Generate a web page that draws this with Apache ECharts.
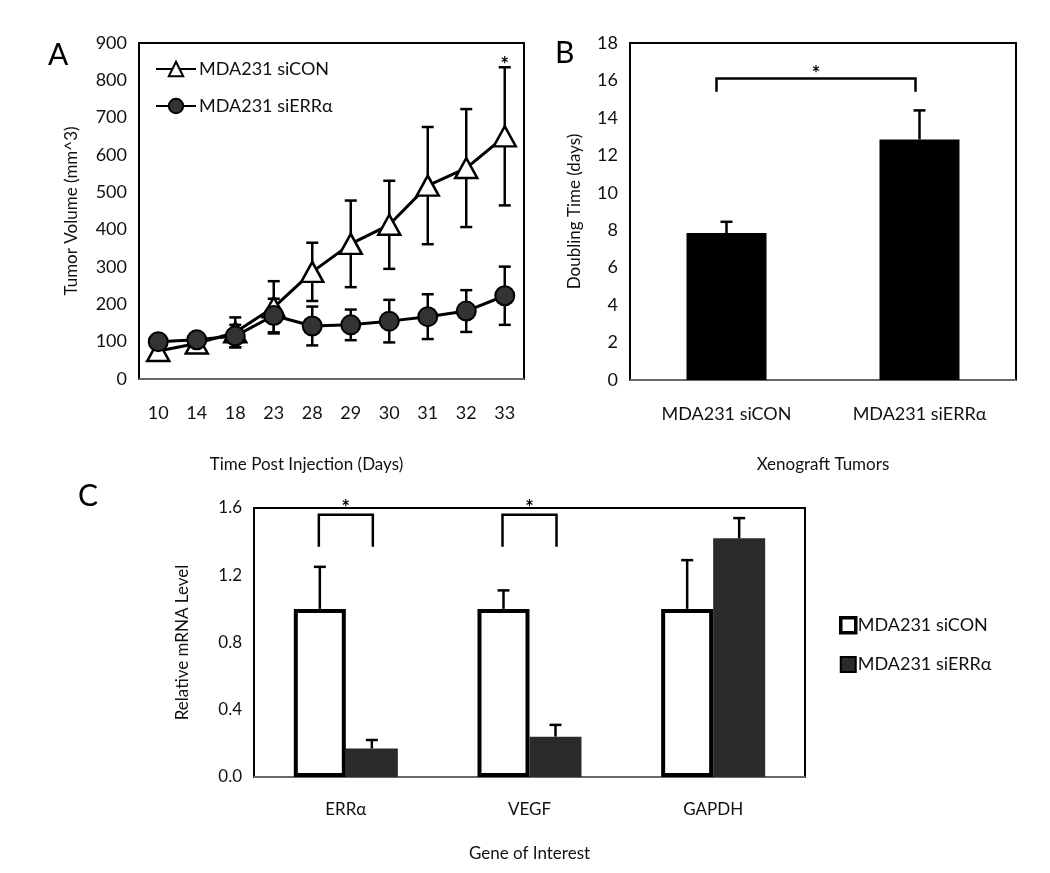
<!DOCTYPE html>
<html>
<head>
<meta charset="utf-8">
<script src="https://cdn.jsdelivr.net/npm/echarts@6/dist/echarts.min.js"></script>
<style>html,body{margin:0;padding:0;background:#fff}#c{width:1050px;height:873px}</style>
</head>
<body>
<div id="c"></div>
<script>
// ---- Panel A data ----
const daysA = ['10','14','18','23','28','29','30','31','32','33'];
const conA = [75, 95, 125, 192, 287, 362, 413, 518, 565, 650];
const conAErr = [10, 12, 40, 70, 78, 116, 118, 157, 158, 185];
const errA = [100, 105, 115, 170, 142, 145, 155, 167, 182, 223];
const errAErr = [12, 10, 30, 45, 52, 41, 57, 60, 56, 78];
const starA = [['33', 840]];
const yTicksA = {min: 0, max: 900, interval: 100};

// ---- Panel B data ----
const catsB = ['MDA231 siCON', 'MDA231 siERRα'];
const valsB = [7.85, 12.85];
const valsBErr = [0.6, 1.55];
const bracketB = [[0, 1, 16.1, 15.4]];
const yTicksB = {min: 0, max: 18, interval: 2};

// ---- Panel C data ----
const genesC = ['ERRα', 'VEGF', 'GAPDH'];
const conC = [1.0, 1.0, 1.0];
const conCErr = [0.25, 0.11, 0.29];
const errC = [0.17, 0.24, 1.42];
const errCErr = [0.05, 0.07, 0.12];
const bracketC = [[0, 1.56, 1.37], [1, 1.56, 1.37]];
const yTicksC = {min: 0, max: 1.6, interval: 0.4};

const seriesNames = ['MDA231 siCON', 'MDA231 siERRα'];

const FONT = 'Lato';
const TXT = '#111';
const AX = '#8a8a8a';

function axisCommon() {
  return {
    axisLine: {lineStyle: {color: AX, width: 1.5}},
    axisTick: {lineStyle: {color: AX, width: 1.5}, length: 5},
    axisLabel: {color: TXT, fontFamily: FONT, fontSize: 18},
    splitLine: {show: false},
    nameTextStyle: {color: TXT, fontFamily: FONT, fontSize: 17}
  };
}

function errRender(symmetric, offsetPx, capW) {
  return function (params, api) {
    const x = api.value(0), v = api.value(1), e = api.value(2);
    const top = api.coord([x, v + e]);
    const bot = api.coord([x, symmetric ? v - e : v]);
    const dx = offsetPx;
    const style = {stroke: '#000', lineWidth: 2.5};
    const children = [
      {type: 'line', shape: {x1: top[0] + dx, y1: top[1], x2: bot[0] + dx, y2: bot[1]}, style},
      {type: 'line', shape: {x1: top[0] + dx - capW / 2, y1: top[1], x2: top[0] + dx + capW / 2, y2: top[1]}, style}
    ];
    if (symmetric) {
      children.push({type: 'line', shape: {x1: bot[0] + dx - capW / 2, y1: bot[1], x2: bot[0] + dx + capW / 2, y2: bot[1]}, style});
    }
    return {type: 'group', children};
  };
}

function bracketRenderB(params, api) {
  const a = api.value(0), b = api.value(1), yt = api.value(2), yl = api.value(3);
  const p1 = api.coord([a, yl]), p2 = api.coord([a, yt]), p3 = api.coord([b, yt]), p4 = api.coord([b, yl]);
  return {type: 'group', children: [
    {type: 'polyline', shape: {points: [[p1[0] - 10, p1[1]], [p2[0] - 10, p2[1]], [p3[0] - 4, p3[1]], [p4[0] - 4, p4[1]]]}, style: {stroke: '#000', fill: null, lineWidth: 2.5}},
    {type: 'text', style: {text: '*', x: (p2[0] + p3[0]) / 2 - 7, y: p2[1] - 4, fill: '#000', font: 'bold 20px ' + FONT, textAlign: 'center', textVerticalAlign: 'middle'}}
  ]};
}

function bracketRenderC(params, api) {
  const c = api.value(0), yt = api.value(1), yl = api.value(2);
  const off = 27;
  const p1 = api.coord([c, yl]), p2 = api.coord([c, yt]);
  const xl = p1[0] - off, xr = p1[0] + off;
  return {type: 'group', children: [
    {type: 'polyline', shape: {points: [[xl, p1[1]], [xl, p2[1]], [xr, p2[1]], [xr, p1[1]]]}, style: {stroke: '#000', fill: null, lineWidth: 2.5}},
    {type: 'text', style: {text: '*', x: (xl + xr) / 2, y: p2[1] - 6, fill: '#000', font: 'bold 20px ' + FONT, textAlign: 'center', textVerticalAlign: 'middle'}}
  ]};
}

const chart = echarts.init(document.getElementById('c'), null, {renderer: 'canvas'});

const option = {
  backgroundColor: '#fff',
  animation: false,
  textStyle: {fontFamily: FONT, color: TXT},
  grid: [
    {left: 139, top: 43, width: 385, height: 336, show: true, borderColor: '#000', borderWidth: 2, backgroundColor: 'transparent'},
    {left: 630, top: 43, width: 386, height: 337, show: true, borderColor: '#000', borderWidth: 2, backgroundColor: 'transparent'},
    {left: 254, top: 508, width: 551, height: 269, show: true, borderColor: '#000', borderWidth: 2, backgroundColor: 'transparent'}
  ],
  legend: [
    {
      left: 150, top: 55, orient: 'vertical', itemGap: 19, itemWidth: 40, itemHeight: 18,
      data: seriesNames.map(n => ({name: n})),
      textStyle: {color: TXT, fontFamily: FONT, fontSize: 18, padding: [0, 0, 0, -2]},
      seriesIndex: [0, 1]
    },
    {
      left: 834, top: 611, orient: 'vertical', itemGap: 21, itemWidth: 15, itemHeight: 15,
      data: [
        {name: seriesNames[0], icon: 'rect', itemStyle: {color: '#fff', borderColor: '#000', borderWidth: 3.5}},
        {name: seriesNames[1], icon: 'rect', itemStyle: {color: '#2b2b2b'}}
      ],
      textStyle: {color: TXT, fontFamily: FONT, fontSize: 18, padding: [0, 0, 0, -3]}
    }
  ],
  xAxis: [
    Object.assign(axisCommon(), {gridIndex: 0, type: 'category', data: daysA, boundaryGap: true,
      name: 'Time Post Injection (Days)', nameLocation: 'middle', nameGap: 77,
      nameTextStyle: {color: TXT, fontFamily: FONT, fontSize: 17, padding: [0, 50, 0, 0]},
      axisLabel: {color: TXT, fontFamily: FONT, fontSize: 18, margin: 25}}),
    Object.assign(axisCommon(), {gridIndex: 1, type: 'category', data: catsB, boundaryGap: true,
      name: 'Xenograft Tumors', nameLocation: 'middle', nameGap: 76,
      axisLabel: {color: TXT, fontFamily: FONT, fontSize: 18, margin: 25}}),
    Object.assign(axisCommon(), {gridIndex: 2, type: 'category', data: genesC, boundaryGap: true,
      name: 'Gene of Interest', nameLocation: 'middle', nameGap: 68,
      axisLabel: {color: TXT, fontFamily: FONT, fontSize: 17, margin: 24}})
  ],
  yAxis: [
    Object.assign(axisCommon(), {gridIndex: 0, type: 'value', min: yTicksA.min, max: yTicksA.max, interval: yTicksA.interval,
      name: 'Tumor Volume (mm^3)', nameLocation: 'middle', nameGap: 59,
      axisLabel: {color: TXT, fontFamily: FONT, fontSize: 18, margin: 12}}),
    Object.assign(axisCommon(), {gridIndex: 1, type: 'value', min: yTicksB.min, max: yTicksB.max, interval: yTicksB.interval,
      name: 'Doubling Time (days)', nameLocation: 'middle', nameGap: 47,
      axisLabel: {color: TXT, fontFamily: FONT, fontSize: 18, margin: 12}}),
    Object.assign(axisCommon(), {gridIndex: 2, type: 'value', min: yTicksC.min, max: yTicksC.max, interval: yTicksC.interval,
      name: 'Relative mRNA Level', nameLocation: 'middle', nameGap: 63,
      axisLabel: {color: TXT, fontFamily: FONT, fontSize: 17, margin: 12, formatter: v => v.toFixed(1)}})
  ],
  series: [
    // Panel A lines
    {name: seriesNames[0], type: 'line', xAxisIndex: 0, yAxisIndex: 0, data: conA, z: 5,
      symbol: 'triangle', symbolSize: [22, 20],
      lineStyle: {color: '#000', width: 3},
      itemStyle: {color: '#fff', borderColor: '#000', borderWidth: 2.5}},
    {name: seriesNames[1], type: 'line', xAxisIndex: 0, yAxisIndex: 0, data: errA, z: 6,
      symbol: 'circle', symbolSize: 19,
      lineStyle: {color: '#000', width: 3},
      itemStyle: {color: '#333', borderColor: '#000', borderWidth: 2}},
    // Panel A error bars
    {type: 'custom', xAxisIndex: 0, yAxisIndex: 0, z: 3, silent: true,
      renderItem: errRender(true, 0, 12), data: daysA.map((d, i) => [i, conA[i], conAErr[i]])},
    {type: 'custom', xAxisIndex: 0, yAxisIndex: 0, z: 3, silent: true,
      renderItem: errRender(true, 0, 12), data: daysA.map((d, i) => [i, errA[i], errAErr[i]])},
    // Panel A star
    {type: 'custom', xAxisIndex: 0, yAxisIndex: 0, z: 7, silent: true,
      renderItem: function (params, api) {
        const p = api.coord([api.value(0), api.value(1)]);
        return {type: 'text', style: {text: '*', x: p[0], y: p[1], fill: '#000', font: 'bold 20px ' + FONT, textAlign: 'center', textVerticalAlign: 'middle'}};
      },
      data: starA.map(s => [daysA.indexOf(s[0]), s[1]])},
    // Panel B bars
    {type: 'bar', xAxisIndex: 1, yAxisIndex: 1, data: valsB, barWidth: 80,
      itemStyle: {color: '#000'}},
    {type: 'custom', xAxisIndex: 1, yAxisIndex: 1, z: 3, silent: true,
      renderItem: errRender(false, 0, 12), data: catsB.map((c, i) => [i, valsB[i], valsBErr[i]])},
    {type: 'custom', xAxisIndex: 1, yAxisIndex: 1, z: 3, silent: true,
      renderItem: bracketRenderB, data: bracketB},
    // Panel C bars
    {name: seriesNames[0], type: 'bar', xAxisIndex: 2, yAxisIndex: 2, data: conC, barWidth: 52, barGap: '0%',
      itemStyle: {color: '#fff', borderColor: '#000', borderWidth: 4}},
    {name: seriesNames[1], type: 'bar', xAxisIndex: 2, yAxisIndex: 2, data: errC, barWidth: 52, barGap: '0%',
      itemStyle: {color: '#2b2b2b'}},
    {type: 'custom', xAxisIndex: 2, yAxisIndex: 2, z: 3, silent: true,
      renderItem: errRender(false, -26, 12), data: genesC.map((g, i) => [i, conC[i], conCErr[i]])},
    {type: 'custom', xAxisIndex: 2, yAxisIndex: 2, z: 3, silent: true,
      renderItem: errRender(false, 26, 12), data: genesC.map((g, i) => [i, errC[i], errCErr[i]])},
    {type: 'custom', xAxisIndex: 2, yAxisIndex: 2, z: 3, silent: true,
      renderItem: bracketRenderC, data: bracketC}
  ],
  graphic: [
    {type: 'text', left: 48, top: 40, style: {text: 'A', font: '30px ' + FONT, fill: '#000'}},
    {type: 'text', left: 555, top: 38, style: {text: 'B', font: '30px ' + FONT, fill: '#000'}},
    {type: 'text', left: 78, top: 481, style: {text: 'C', font: '30px ' + FONT, fill: '#000'}}
  ]
};

chart.setOption(option);
</script>
</body>
</html>
